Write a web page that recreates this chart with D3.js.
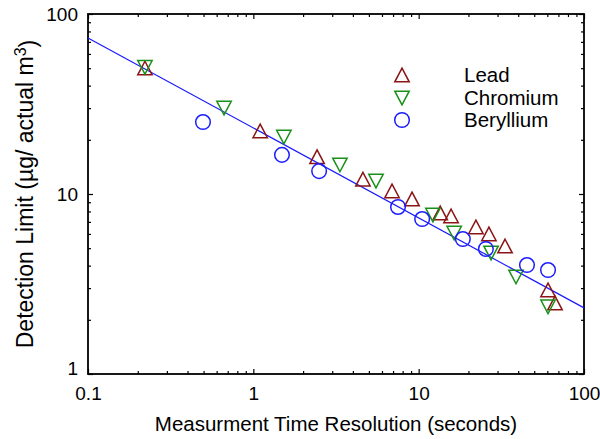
<!DOCTYPE html>
<html>
<head>
<meta charset="utf-8">
<script src="https://cdn.jsdelivr.net/npm/d3@7"></script>
<style>
  html, body { margin: 0; padding: 0; background: #fff; }
  svg text { font-family: "Liberation Sans", Arial, sans-serif; fill: #000; }
</style>
</head>
<body>
<svg id="chart" width="600" height="439"></svg>
<script>
// ---- data ----
const leadX = [0.221, 1.10, 2.43, 4.60, 6.90, 9.12, 13.5, 15.7, 22.2, 26.6, 33.3, 60.6, 66.8];
const leadY = [50.1, 22.4, 16.1, 12.1, 10.4, 9.38, 7.84, 7.55, 6.56, 6.00, 5.14, 2.93, 2.48];

const chromiumX = [0.221, 0.665, 1.53, 3.34, 5.52, 12.2, 16.4, 27.4, 38.8, 60.6];
const chromiumY = [50.5, 30.0, 20.7, 14.5, 11.8, 7.64, 6.07, 4.70, 3.46, 2.36];

const berylliumX = [0.496, 1.49, 2.50, 7.50, 10.5, 18.5, 25.5, 45.2, 60.6];
const berylliumY = [25.1, 16.5, 13.4, 8.47, 7.26, 5.62, 4.95, 4.03, 3.78];

// power-law fit line (straight on log-log axes), endpoints
const fitX = [0.1, 100];
const fitY = [73.6, 2.33];

const xTickValues = [0.1, 1, 10, 100];
const xTickLabels = ["0.1", "1", "10", "100"];
const yTickValues = [1, 10, 100];
const yTickLabels = ["1", "10", "100"];

const seriesNames = ["Lead", "Chromium", "Beryllium"];
const seriesColors = ["#8b1414", "#18901a", "#1c1cff"];
const seriesSymbols = ["up", "down", "circle"];

// ---- layout ----
const svg = d3.select("#chart");
const margin = { left: 88, top: 14, right: 16, bottom: 65 };
const W = 600 - margin.left - margin.right;   // 496
const H = 439 - margin.top - margin.bottom;   // 360

const x = d3.scaleLog().domain([0.1, 100]).range([0, W]);
const y = d3.scaleLog().domain([1, 100]).range([H, 0]);

const g = svg.append("g").attr("transform", `translate(${margin.left},${margin.top})`);

// minor tick values
function minors(lo, hi) {
  const out = [];
  for (let d = lo; d < hi; d *= 10) for (let k = 2; k <= 9; k++) out.push(d * k);
  return out;
}
const xMinor = minors(0.1, 100);
const yMinor = minors(1, 100);

const majorLen = 5, minorLen = 3;
const tickFont = 19;

function styleAxis(sel) {
  sel.select(".domain").remove();
  sel.selectAll(".tick line").attr("stroke", "#000").attr("stroke-width", 1.2);
  sel.selectAll(".tick text").style("font-size", tickFont + "px").attr("fill", "#000");
}

const xLab = (d) => xTickLabels[xTickValues.indexOf(d)];
const yLab = (d) => yTickLabels[yTickValues.indexOf(d)];

// bottom
g.append("g").attr("transform", `translate(0,${H})`)
  .call(d3.axisBottom(x).tickValues(xTickValues).tickFormat(xLab).tickSizeInner(-majorLen).tickSizeOuter(0).tickPadding(13))
  .call(styleAxis);
g.append("g").attr("transform", `translate(0,${H})`)
  .call(d3.axisBottom(x).tickValues(xMinor).tickFormat("").tickSizeInner(-minorLen).tickSizeOuter(0))
  .call(styleAxis);
// top
g.append("g")
  .call(d3.axisTop(x).tickValues(xTickValues).tickFormat("").tickSizeInner(-majorLen).tickSizeOuter(0))
  .call(styleAxis);
g.append("g")
  .call(d3.axisTop(x).tickValues(xMinor).tickFormat("").tickSizeInner(-minorLen).tickSizeOuter(0))
  .call(styleAxis);
// left
const leftAxis = g.append("g")
  .call(d3.axisLeft(y).tickValues(yTickValues).tickFormat(yLab).tickSizeInner(-majorLen).tickSizeOuter(0).tickPadding(10))
  .call(styleAxis);
g.append("g")
  .call(d3.axisLeft(y).tickValues(yMinor).tickFormat("").tickSizeInner(-minorLen).tickSizeOuter(0))
  .call(styleAxis);
// right
g.append("g").attr("transform", `translate(${W},0)`)
  .call(d3.axisRight(y).tickValues(yTickValues).tickFormat("").tickSizeInner(-majorLen).tickSizeOuter(0))
  .call(styleAxis);
g.append("g").attr("transform", `translate(${W},0)`)
  .call(d3.axisRight(y).tickValues(yMinor).tickFormat("").tickSizeInner(-minorLen).tickSizeOuter(0))
  .call(styleAxis);

// y tick "1" sits slightly above the corner in the reference
leftAxis.selectAll(".tick text").filter(d => d === 1).attr("dy", "0.0em");

// frame
g.append("rect").attr("x", 0).attr("y", 0).attr("width", W).attr("height", H)
  .attr("fill", "none").attr("stroke", "#000").attr("stroke-width", 1.8);

// fit line
const fitData = fitX.map((v, i) => [v, fitY[i]]);
g.append("path").datum(fitData)
  .attr("d", d3.line().x(d => x(d[0])).y(d => y(d[1])))
  .attr("fill", "none").attr("stroke", "#1a1aff").attr("stroke-width", 1.2);

// markers
function markerPath(type, cx, cy) {
  const hw = 7.2, hh = 6.8;
  if (type === "up") return `M${cx},${cy - hh}L${cx + hw},${cy + hh}L${cx - hw},${cy + hh}Z`;
  if (type === "down") return `M${cx},${cy + hh}L${cx + hw},${cy - hh}L${cx - hw},${cy - hh}Z`;
  return null;
}
function drawMarkers(xs, ys, si) {
  const pts = xs.map((v, i) => [v, ys[i]]);
  const col = seriesColors[si], type = seriesSymbols[si];
  if (type === "circle") {
    g.append("g").selectAll("circle").data(pts).join("circle")
      .attr("cx", d => x(d[0])).attr("cy", d => y(d[1])).attr("r", 7.3)
      .attr("fill", "none").attr("stroke", col).attr("stroke-width", 1.5);
  } else {
    g.append("g").selectAll("path").data(pts).join("path")
      .attr("d", d => markerPath(type, x(d[0]), y(d[1])))
      .attr("fill", "none").attr("stroke", col).attr("stroke-width", 1.5);
  }
}
drawMarkers(leadX, leadY, 0);
drawMarkers(chromiumX, chromiumY, 1);
drawMarkers(berylliumX, berylliumY, 2);

// legend
const legY = [75, 98, 120];
const legFont = 20.5;
const legG = svg.append("g");
seriesNames.forEach((name, i) => {
  const cx = 402, cy = legY[i];
  if (seriesSymbols[i] === "circle") {
    legG.append("circle").attr("cx", cx).attr("cy", cy).attr("r", 7.3)
      .attr("fill", "none").attr("stroke", seriesColors[i]).attr("stroke-width", 1.5);
  } else {
    legG.append("path").attr("d", markerPath(seriesSymbols[i], cx, cy))
      .attr("fill", "none").attr("stroke", seriesColors[i]).attr("stroke-width", 1.5);
  }
  legG.append("text").attr("x", 464).attr("y", cy + 0.358 * legFont).style("font-size", legFont + "px").text(name);
});

// axis titles
svg.append("text")
  .attr("x", margin.left + W / 2).attr("y", 431)
  .attr("text-anchor", "middle").style("font-size", "20.5px")
  .text("Measurment Time Resolution (seconds)");

const yt = svg.append("text")
  .attr("transform", `translate(33,${margin.top + H / 2}) rotate(-90)`)
  .attr("text-anchor", "middle").style("font-size", "23px");
yt.append("tspan").text("Detection Limit (\u00b5g/ actual m");
yt.append("tspan").attr("dy", "-0.45em").style("font-size", "16px").text("3");
yt.append("tspan").attr("dy", "0.45em").text(")");
</script>
</body>
</html>
